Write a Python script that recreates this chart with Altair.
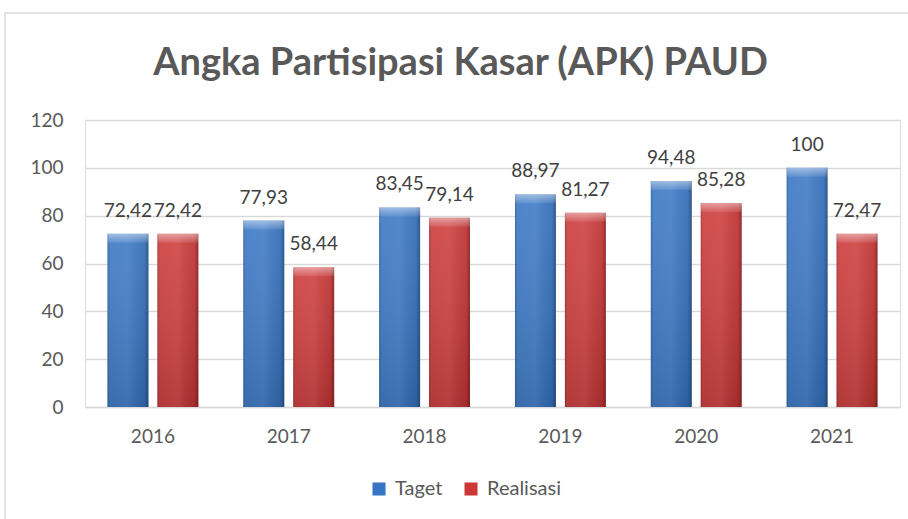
import altair as alt
import pandas as pd

years = ["2016", "2017", "2018", "2019", "2020", "2021"]
taget = [72.42, 77.93, 83.45, 88.97, 94.48, 100]
realisasi = [72.42, 58.44, 79.14, 81.27, 85.28, 72.47]
series = ["Taget", "Realisasi"]
colors = ["#3675c4", "#cc3636"]
title_text = "Angka Partisipasi Kasar (APK) PAUD"


def fmt(v):
    s = ("%.2f" % v).rstrip("0").rstrip(".")
    return s.replace(".", ",")


rows = []
for i, y in enumerate(years):
    rows.append({"year": y, "series": "Taget", "value": taget[i], "label": fmt(taget[i])})
    rows.append({"year": y, "series": "Realisasi", "value": realisasi[i], "label": fmt(realisasi[i])})
df = pd.DataFrame(rows)

FONT = "Lato"

x_enc = alt.X("year:N", sort=years, title=None,
              scale=alt.Scale(paddingInner=0.331, paddingOuter=0.1655),
              axis=alt.Axis(labelAngle=0, labelFontSize=19, labelColor="#595959",
                            labelFont=FONT, labelPadding=20, ticks=False,
                            domain=True, domainColor="#d9d9d9", domainWidth=1.5))
xo_enc = alt.XOffset("series:N", sort=series,
                     scale=alt.Scale(paddingInner=0.18, paddingOuter=0))
y_enc = alt.Y("value:Q", title=None,
              scale=alt.Scale(domain=[0, 120]),
              axis=alt.Axis(values=[0, 20, 40, 60, 80, 100, 120], labelFontSize=19,
                            labelColor="#595959", labelFont=FONT, labelPadding=22,
                            ticks=False, domain=False, gridColor="#d9d9d9",
                            gridWidth=1.5))

base = alt.Chart(df)

bars = base.mark_bar().encode(
    x=x_enc, xOffset=xo_enc, y=y_enc,
    color=alt.Color("series:N", sort=series,
                    scale=alt.Scale(domain=series, range=colors),
                    legend=alt.Legend(title=None, orient="none", direction="horizontal",
                                      legendX=284, legendY=359, symbolType="square",
                                      symbolSize=170, symbolStrokeWidth=0,
                                      labelFontSize=20, labelColor="#595959",
                                      labelFont=FONT, columnPadding=18,
                                      symbolOffset=0, labelOffset=6)),
)

shade = base.mark_bar(
    fill=alt.Gradient(
        gradient="linear", x1=0, x2=1, y1=0, y2=0,
        stops=[alt.GradientStop(offset=0, color="rgba(0,0,0,0.18)"),
               alt.GradientStop(offset=0.08, color="rgba(255,255,255,0.05)"),
               alt.GradientStop(offset=0.5, color="rgba(255,255,255,0.08)"),
               alt.GradientStop(offset=0.9, color="rgba(0,0,0,0.05)"),
               alt.GradientStop(offset=1, color="rgba(0,0,0,0.30)")]),
).encode(x=x_enc, xOffset=xo_enc, y="value:Q")

vshade = base.mark_bar(
    fill=alt.Gradient(
        gradient="linear", x1=0, x2=0, y1=0, y2=1,
        stops=[alt.GradientStop(offset=0, color="rgba(255,255,255,0.08)"),
               alt.GradientStop(offset=1, color="rgba(0,0,0,0.14)")]),
).encode(x=x_enc, xOffset=xo_enc, y="value:Q")

bevel = base.mark_bar(
    y2Offset=9,
    fill=alt.Gradient(
        gradient="linear", x1=0, x2=0, y1=0, y2=1,
        stops=[alt.GradientStop(offset=0, color="rgba(255,255,255,0.45)"),
               alt.GradientStop(offset=1, color="rgba(255,255,255,0.08)")]),
).encode(x=x_enc, xOffset=xo_enc, y="value:Q", y2="value:Q")

labels = base.mark_text(
    baseline="alphabetic", dy=-17, fontSize=19, color="#404040", font=FONT
).encode(x=x_enc, xOffset=xo_enc, y="value:Q", text="label:N")

frame = alt.Chart(pd.DataFrame({"a": [0]})).mark_rect(
    fill=None, stroke="#d9d9d9", strokeWidth=1.5
).encode(x=alt.value(-80), x2=alt.value(830), y=alt.value(-107), y2=alt.value(420))

title = alt.Chart(pd.DataFrame({"t": [title_text]})).mark_text(
    fontSize=38, font=FONT, fontWeight="bold", color="#595959",
    align="center", baseline="alphabetic"
).encode(x=alt.value(375.5), y=alt.value(-45), text="t:N")

chart = alt.layer(frame, bars, vshade, shade, bevel, labels, title).properties(
    width=815, height=287,
    autosize=alt.AutoSizeParams(type="none"),
    padding={"left": 85, "top": 120, "right": 8, "bottom": 112},
).configure_view(stroke=None).configure(background="white")

chart.save("out.html", embed_options={"renderer": "svg", "actions": False})
